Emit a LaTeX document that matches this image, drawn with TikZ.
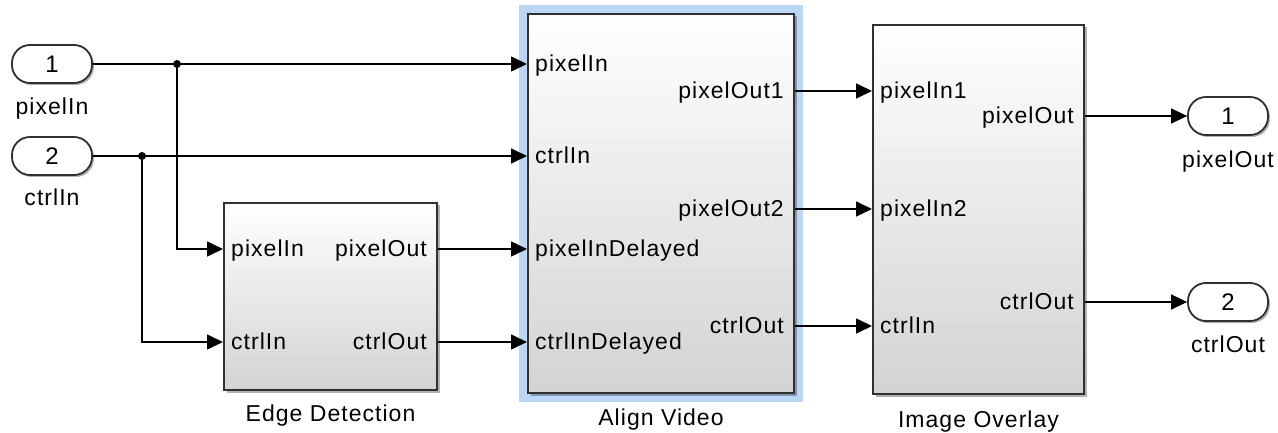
\documentclass[tikz,border=0pt]{standalone}
\usepackage{fontspec}
\setmainfont{Liberation Sans}[LetterSpace=4.5]
\usetikzlibrary{arrows.meta,shadows,fit,backgrounds,calc}
\definecolor{edgegray}{HTML}{303030}
\definecolor{hilite}{HTML}{BCD6F6}
\definecolor{shadelow}{HTML}{D3D3D3}
\definecolor{shademid}{HTML}{F3F3F3}
\begin{document}
\begin{tikzpicture}[x=1pt,y=-1pt,
  font=\fontsize{23}{27}\selectfont,
  wire/.style={line width=1.6pt, draw=black},
  sig/.style={wire, -{Triangle[length=16pt,width=15pt]}},
  blk/.style={draw=edgegray, line width=2pt, anchor=north west, inner sep=0pt,
    top color=white, middle color=shademid, bottom color=shadelow,
    drop shadow={shadow xshift=2.5pt, shadow yshift=-2.5pt, opacity=0.3, fill=black}},
  portblk/.style={draw=edgegray, line width=1.8pt, fill=white, rounded corners=18pt,
    minimum width=80pt, minimum height=38pt, inner sep=0pt,
    font=\fontsize{24}{28}\selectfont,
    drop shadow={shadow xshift=2pt, shadow yshift=-2pt, opacity=0.3, fill=black}},
  pl/.style={anchor=west, inner xsep=8pt, inner ysep=0pt, text height=15pt, text depth=0pt},
  pr/.style={anchor=east, inner xsep=11pt, inner ysep=0pt, text height=15pt, text depth=0pt},
  caption/.style={anchor=base, inner sep=0pt},
  jdot/.style={fill=black}]

\useasboundingbox (0,0) rectangle (1278,433);

% top-level ports
\node[portblk] (in1) at (52,64) {1};
\node[portblk] (in2) at (52,156) {2};
\node[portblk] (out1) at (1228,116) {1};
\node[portblk] (out2) at (1228,302) {2};
\node[caption] (in1-name) at ($(in1.south)+(0,31)$) {pixelIn};
\node[caption] (in2-name) at ($(in2.south)+(0,30)$) {ctrlIn};
\node[caption] (out1-name) at ($(out1.south)+(0,32)$) {pixelOut};
\node[caption] (out2-name) at ($(out2.south)+(0,31)$) {ctrlOut};

% subsystems
\node[blk, minimum width=213pt, minimum height=187pt] (ed) at (223,202) {};
\node[blk, minimum width=266pt, minimum height=379pt] (av) at (527,13) {};
\node[blk, minimum width=211pt, minimum height=369pt] (io) at (872,24) {};

\begin{scope}[on background layer]
  \node[fit=(av), inner sep=8pt, fill=hilite] (av-sel) {};
\end{scope}

\node[caption] (ed-name) at ($(ed.south)+(0,30)$) {Edge Detection};
\node[caption] (av-name) at ($(av.south)+(0,31)$) {Align Video};
\node[caption] (io-name) at ($(io.south)+(0,32)$) {Image Overlay};

% Edge Detection ports
\node[pl] (ed-pin) at (ed.west |- 0,249) {pixelIn};
\node[pl] (ed-cin) at (ed.west |- 0,342) {ctrlIn};
\node[pr] (ed-pout) at (ed.east |- 0,249) {pixelOut};
\node[pr] (ed-cout) at (ed.east |- 0,342) {ctrlOut};

% Align Video ports
\node[pl] (av-pin) at (av.west |- 0,64) {pixelIn};
\node[pl] (av-cin) at (av.west |- 0,156) {ctrlIn};
\node[pl] (av-pind) at (av.west |- 0,249) {pixelInDelayed};
\node[pl] (av-cind) at (av.west |- 0,342) {ctrlInDelayed};
\node[pr] (av-pout1) at (av.east |- 0,91) {pixelOut1};
\node[pr] (av-pout2) at (av.east |- 0,209) {pixelOut2};
\node[pr] (av-cout) at (av.east |- 0,326) {ctrlOut};

% Image Overlay ports
\node[pl] (io-pin1) at (io.west |- 0,91) {pixelIn1};
\node[pl] (io-pin2) at (io.west |- 0,209) {pixelIn2};
\node[pl] (io-cin) at (io.west |- 0,326) {ctrlIn};
\node[pr] (io-pout) at (io.east |- 0,116) {pixelOut};
\node[pr] (io-cout) at (io.east |- 0,302) {ctrlOut};

% branch points
\coordinate (j1) at (177,64);
\coordinate (j2) at (142,156);

% signal lines
\draw[sig] (in1.east) -- (av-pin.west);
\draw[sig] (j1) |- (ed-pin.west);
\draw[sig] (in2.east) -- (av-cin.west);
\draw[sig] (j2) |- (ed-cin.west);
\fill[jdot] (j1) circle (4pt);
\fill[jdot] (j2) circle (4pt);

\draw[sig] (ed-pout.east) -- (av-pind.west);
\draw[sig] (ed-cout.east) -- (av-cind.west);

\draw[sig] (av-pout1.east) -- (io-pin1.west);
\draw[sig] (av-pout2.east) -- (io-pin2.west);
\draw[sig] (av-cout.east) -- (io-cin.west);

\draw[sig] (io-pout.east) -- (out1.west);
\draw[sig] (io-cout.east) -- (out2.west);
\end{tikzpicture}
\end{document}
